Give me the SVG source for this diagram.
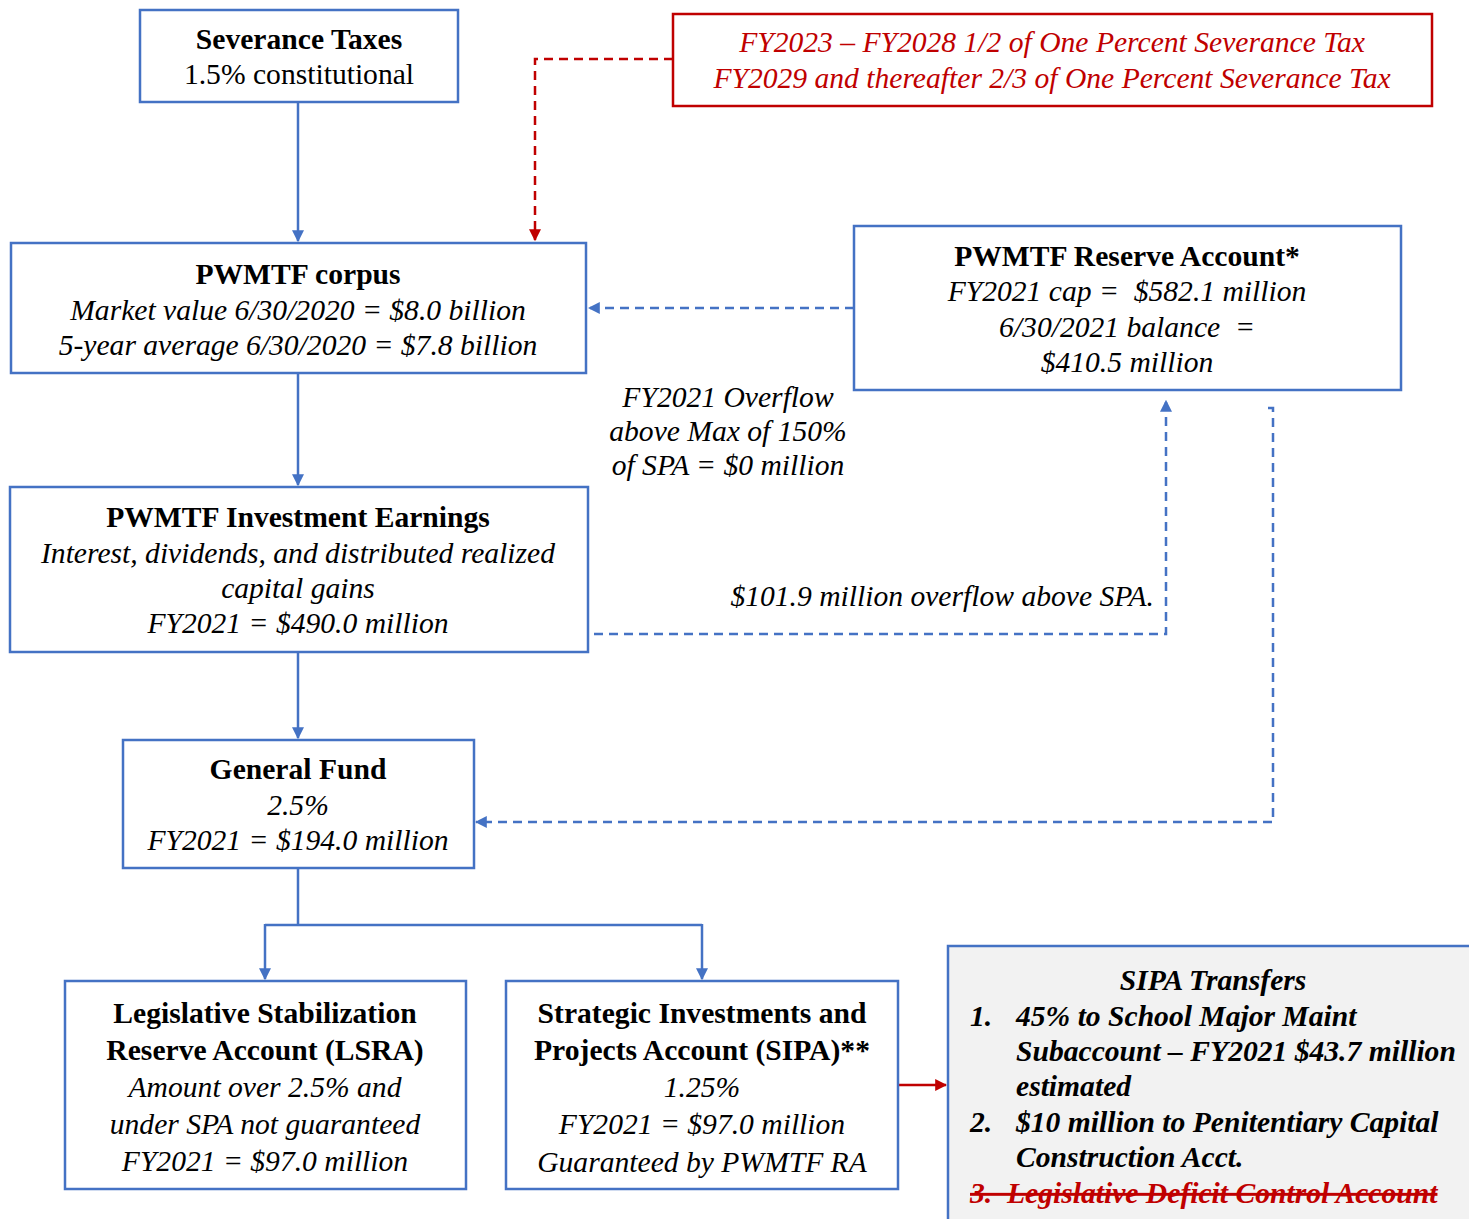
<svg xmlns="http://www.w3.org/2000/svg" width="1469" height="1219" viewBox="0 0 1469 1219">
<defs>
<marker id="ab" viewBox="0 0 10 10" refX="9" refY="5" markerWidth="12" markerHeight="14" markerUnits="userSpaceOnUse" orient="auto"><path d="M0,0 L10,5 L0,10 z" fill="#4472C4"/></marker>
<marker id="ar" viewBox="0 0 10 10" refX="9" refY="5" markerWidth="12" markerHeight="14" markerUnits="userSpaceOnUse" orient="auto"><path d="M0,0 L10,5 L0,10 z" fill="#C00000"/></marker>
</defs>
<style>
text{font-family:"Liberation Serif","Times New Roman",serif;font-size:29.6px;fill:#000}
.c{text-anchor:middle}
.b{font-weight:bold}
.i{font-style:italic}
.bx{fill:#fff;stroke:#4472C4;stroke-width:2.5}
.ln{fill:none;stroke:#4472C4;stroke-width:2.5}
.dl{fill:none;stroke:#4472C4;stroke-width:2.5;stroke-dasharray:9,6}
.red{fill:#C00000}
</style>
<rect width="1469" height="1219" fill="#fff"/>
<g id="connectors">
<path class="ln" d="M298,102 V241" marker-end="url(#ab)"/>
<path d="M673,59 H535 V240" fill="none" stroke="#C00000" stroke-width="2.5" stroke-dasharray="9,6" marker-end="url(#ar)"/>
<path class="dl" d="M854,308 H589" marker-end="url(#ab)"/>
<path class="ln" d="M298,373 V485" marker-end="url(#ab)"/>
<path class="dl" d="M594,634 H1166 V401" marker-end="url(#ab)"/>
<path class="dl" d="M1268,408 H1273 V822 H476" marker-end="url(#ab)"/>
<path class="ln" d="M298,652 V738" marker-end="url(#ab)"/>
<path class="ln" d="M298,868 V925 M265,925 H702"/>
<path class="ln" d="M265,924 V979" marker-end="url(#ab)"/>
<path class="ln" d="M702,924 V979" marker-end="url(#ab)"/>
<path d="M898,1085 H946" fill="none" stroke="#C00000" stroke-width="2.5" marker-end="url(#ar)"/>
</g>
<g id="severance">
<rect class="bx" x="140" y="10" width="318" height="92"/>
<text class="c b" x="299" y="49">Severance Taxes</text>
<text class="c" x="299" y="84">1.5% constitutional</text>
</g>
<g id="redbox">
<rect x="673" y="14" width="759" height="92" fill="#fff" stroke="#C00000" stroke-width="2.5"/>
<text class="c i red" x="1052" y="52">FY2023 – FY2028 1/2 of One Percent Severance Tax</text>
<text class="c i red" x="1052" y="88">FY2029 and thereafter 2/3 of One Percent Severance Tax</text>
</g>
<g id="corpus">
<rect class="bx" x="11" y="243" width="575" height="130"/>
<text class="c b" x="298" y="284">PWMTF corpus</text>
<text class="c i" x="298" y="320">Market value 6/30/2020 = $8.0 billion</text>
<text class="c i" x="298" y="355">5-year average 6/30/2020 = $7.8 billion</text>
</g>
<g id="reserve">
<rect class="bx" x="854" y="226" width="547" height="164"/>
<text class="c b" x="1127" y="266">PWMTF Reserve Account*</text>
<text class="c i" x="1127" y="301" xml:space="preserve">FY2021 cap =  $582.1 million</text>
<text class="c i" x="1127" y="337" xml:space="preserve">6/30/2021 balance  =</text>
<text class="c i" x="1127" y="372">$410.5 million</text>
</g>
<g id="overflow-label">
<text class="c i" x="728" y="407">FY2021 Overflow</text>
<text class="c i" x="728" y="441">above Max of 150%</text>
<text class="c i" x="728" y="475">of SPA = $0 million</text>
</g>
<g id="earnings">
<rect class="bx" x="10" y="487" width="578" height="165"/>
<text class="c b" x="298" y="527">PWMTF Investment Earnings</text>
<text class="c i" x="298" y="563">Interest, dividends, and distributed realized</text>
<text class="c i" x="298" y="598">capital gains</text>
<text class="c i" x="298" y="633">FY2021 = $490.0 million</text>
</g>
<g id="overflow-spa-label">
<text class="i" x="1154" y="606" text-anchor="end">$101.9 million overflow above SPA.</text>
</g>
<g id="general-fund">
<rect class="bx" x="123" y="740" width="351" height="128"/>
<text class="c b" x="298" y="779">General Fund</text>
<text class="c i" x="298" y="815">2.5%</text>
<text class="c i" x="298" y="850">FY2021 = $194.0 million</text>
</g>
<g id="lsra">
<rect class="bx" x="65" y="981" width="401" height="208"/>
<text class="c b" x="265" y="1023">Legislative Stabilization</text>
<text class="c b" x="265" y="1060">Reserve Account (LSRA)</text>
<text class="c i" x="265" y="1097">Amount over 2.5% and</text>
<text class="c i" x="265" y="1134">under SPA not guaranteed</text>
<text class="c i" x="265" y="1171">FY2021 = $97.0 million</text>
</g>
<g id="sipa">
<rect class="bx" x="506" y="981" width="392" height="208"/>
<text class="c b" x="702" y="1023">Strategic Investments and</text>
<text class="c b" x="702" y="1060">Projects Account (SIPA)**</text>
<text class="c i" x="702" y="1097">1.25%</text>
<text class="c i" x="702" y="1134">FY2021 = $97.0 million</text>
<text class="c i" x="702" y="1172">Guaranteed by PWMTF RA</text>
</g>
<g id="sipa-transfers">
<rect x="948" y="946" width="530" height="290" fill="#F2F2F2" stroke="#4472C4" stroke-width="2.5"/>
<text class="c b i" x="1213" y="990">SIPA Transfers</text>
<text class="b i" x="970" y="1026">1.</text>
<text class="b i" x="1016" y="1026">45% to School Major Maint</text>
<text class="b i" x="1016" y="1061">Subaccount – FY2021 $43.7 million</text>
<text class="b i" x="1016" y="1096">estimated</text>
<text class="b i" x="970" y="1132">2.</text>
<text class="b i" x="1016" y="1132">$10 million to Penitentiary Capital</text>
<text class="b i" x="1016" y="1167">Construction Acct.</text>
<text class="b i red" x="970" y="1203" xml:space="preserve" text-decoration="line-through">3.  Legislative Deficit Control Account</text>
</g>
</svg>
